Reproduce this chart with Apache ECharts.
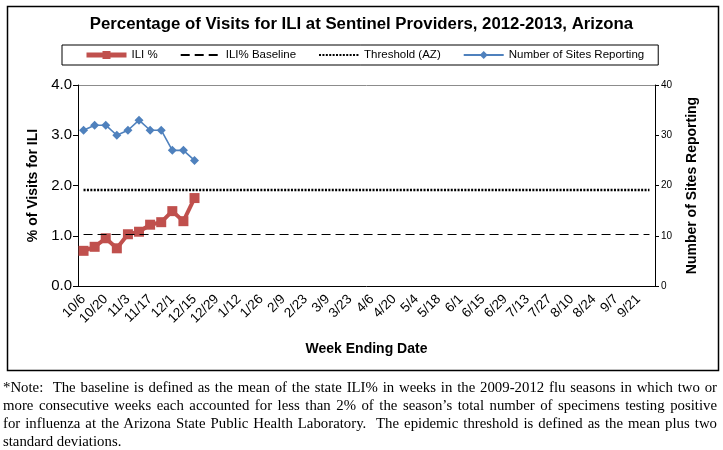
<!DOCTYPE html>
<html>
<head>
<meta charset="utf-8">
<script src="https://cdn.jsdelivr.net/npm/echarts@6/dist/echarts.min.js"></script>
<style>
  html, body { margin: 0; padding: 0; background: #fff; }
  #wrap { position: relative; width: 723px; height: 450px; }
  #chart { position: absolute; left: 0; top: 0; width: 723px; height: 450px; }
  #note { position: absolute; left: 3px; top: 378px; width: 714px;
          font-family: "Liberation Serif", "Times New Roman", serif; font-size: 14.8px;
          line-height: 18px; color: #000; }
  #note .ln { white-space: nowrap; text-align: justify; text-align-last: justify; }
  #note .ln.last { text-align-last: left; }
</style>
</head>
<body>
<div id="wrap">
  <div id="chart"></div>
  <div id="note">
    <div class="ln">*Note:&nbsp; The baseline is defined as the mean of the state ILI% in weeks in the 2009-2012 flu seasons in which two or</div>
    <div class="ln">more consecutive weeks each accounted for less than 2% of the season’s total number of specimens testing positive</div>
    <div class="ln">for influenza at the Arizona State Public Health Laboratory.&nbsp; The epidemic threshold is defined as the mean plus two</div>
    <div class="ln last">standard deviations.</div>
  </div>
</div>
<script>
const categories = ['10/6','10/13','10/20','10/27','11/3','11/10','11/17','11/24','12/1','12/8','12/15','12/22','12/29',
  '1/5','1/12','1/19','1/26','2/2','2/9','2/16','2/23','3/2','3/9','3/16','3/23','3/30','4/6','4/13','4/20','4/27',
  '5/4','5/11','5/18','5/25','6/1','6/8','6/15','6/22','6/29','7/6','7/13','7/20','7/27','8/3','8/10','8/17','8/24',
  '8/31','9/7','9/14','9/21','9/28'];
const iliPercent = [0.70, 0.78, 0.95, 0.75, 1.03, 1.08, 1.22, 1.27, 1.49, 1.29, 1.75];
const sitesReporting = [31, 32, 32, 30, 31, 33, 31, 31, 27, 27, 25];
const baselineValue = 1.03;
const thresholdValue = 1.92;
const leftTicks = [0, 1, 2, 3, 4];
const rightTicks = [0, 10, 20, 30, 40];

const chart = echarts.init(document.getElementById('chart'));
const first = categories[0], last = categories[categories.length - 1];
chart.setOption({
  animation: false,
  title: {
    text: 'Percentage of Visits for ILI at Sentinel Providers, 2012-2013, Arizona',
    left: 'center', top: 11,
    textStyle: { fontFamily: 'Liberation Sans', fontSize: 16.8, fontWeight: 'bold', color: '#000' }
  },
  graphic: [{
    type: 'rect', left: 5, top: 4, z: -1,
    shape: { width: 711, height: 364 },
    style: { fill: 'none', stroke: '#000', lineWidth: 1.5 }
  }],
  legend: {
    left: 62, top: 45,
    padding: [4, 14, 4, 22],
    borderColor: '#000', borderWidth: 1,
    itemWidth: 40, itemHeight: 10, itemGap: 22,
    textStyle: { fontFamily: 'Liberation Sans', fontSize: 11.5, color: '#000' },
    data: [
      { name: 'ILI %', lineStyle: { width: 5 } },
      { name: 'ILI% Baseline', itemStyle: { opacity: 0 } },
      { name: 'Threshold (AZ)', itemStyle: { opacity: 0 } },
      { name: 'Number of Sites Reporting', lineStyle: { width: 2 } }
    ]
  },
  grid: { left: 78, right: 68, top: 85, bottom: 164, containLabel: false },
  xAxis: {
    type: 'category', data: categories, boundaryGap: true,
    name: 'Week Ending Date', nameLocation: 'middle', nameGap: 56,
    nameTextStyle: { fontFamily: 'Liberation Sans', fontSize: 14, fontWeight: 'bold', color: '#000' },
    axisLine: { lineStyle: { color: '#000', width: 1 } },
    axisTick: { interval: 0, length: 5, lineStyle: { color: '#000' } },
    axisLabel: { interval: 1, rotate: 45, margin: 11,
      fontFamily: 'Liberation Sans', fontSize: 13.5, color: '#000' }
  },
  yAxis: [{
    type: 'value', min: leftTicks[0], max: leftTicks[leftTicks.length - 1], interval: 1,
    name: '% of Visits for ILI', nameLocation: 'middle', nameGap: 38,
    nameTextStyle: { fontFamily: 'Liberation Sans', fontSize: 14, fontWeight: 'bold', color: '#000' },
    axisLine: { show: true, lineStyle: { color: '#000' } },
    axisTick: { show: true, length: 5, lineStyle: { color: '#000' } },
    axisLabel: { formatter: v => v.toFixed(1), fontFamily: 'Liberation Sans', fontSize: 15, color: '#000', margin: 6 },
    splitLine: { show: true, lineStyle: { color: ['transparent','transparent','transparent','transparent','#8c8c8c'], width: 1 } }
  }, {
    type: 'value', min: rightTicks[0], max: rightTicks[rightTicks.length - 1], interval: 10,
    position: 'right',
    name: 'Number of Sites Reporting', nameLocation: 'middle', nameGap: 30,
    nameRotate: 90,
    nameTextStyle: { fontFamily: 'Liberation Sans', fontSize: 14, fontWeight: 'bold', color: '#000' },
    axisLine: { show: true, lineStyle: { color: '#000' } },
    axisTick: { show: true, length: 4, lineStyle: { color: '#000' } },
    axisLabel: { fontFamily: 'Liberation Sans', fontSize: 10, color: '#000', margin: 6 },
    splitLine: { show: false }
  }],
  series: [{
    name: 'ILI %', type: 'line', data: iliPercent, yAxisIndex: 0,
    symbol: 'rect', symbolSize: 10, showAllSymbol: true,
    lineStyle: { color: '#C0504D', width: 4 },
    itemStyle: { color: '#C0504D' }, z: 4
  }, {
    name: 'ILI% Baseline', type: 'line', data: [], yAxisIndex: 0, symbol: 'none',
    lineStyle: { color: '#000', width: 1.2, type: [9, 5] },
    itemStyle: { color: '#000' },
    markLine: {
      silent: true, symbol: 'none', label: { show: false },
      lineStyle: { color: '#000', width: 1.2, type: [9, 5] },
      data: [[{ coord: [first, baselineValue] }, { coord: [last, baselineValue] }]]
    }
  }, {
    name: 'Threshold (AZ)', type: 'line', data: [], yAxisIndex: 0, symbol: 'none',
    lineStyle: { color: '#000', width: 2.4, type: [2, 1.4] },
    itemStyle: { color: '#000' },
    markLine: {
      silent: true, symbol: 'none', label: { show: false },
      lineStyle: { color: '#000', width: 2.4, type: [2, 1.4] },
      data: [[{ coord: [first, thresholdValue] }, { coord: [last, thresholdValue] }]]
    }
  }, {
    name: 'Number of Sites Reporting', type: 'line', data: sitesReporting, yAxisIndex: 1,
    symbol: 'diamond', symbolSize: 9, showAllSymbol: true,
    lineStyle: { color: '#4F81BD', width: 1.6 },
    itemStyle: { color: '#4F81BD' }, z: 3
  }]
});
</script>
</body>
</html>
